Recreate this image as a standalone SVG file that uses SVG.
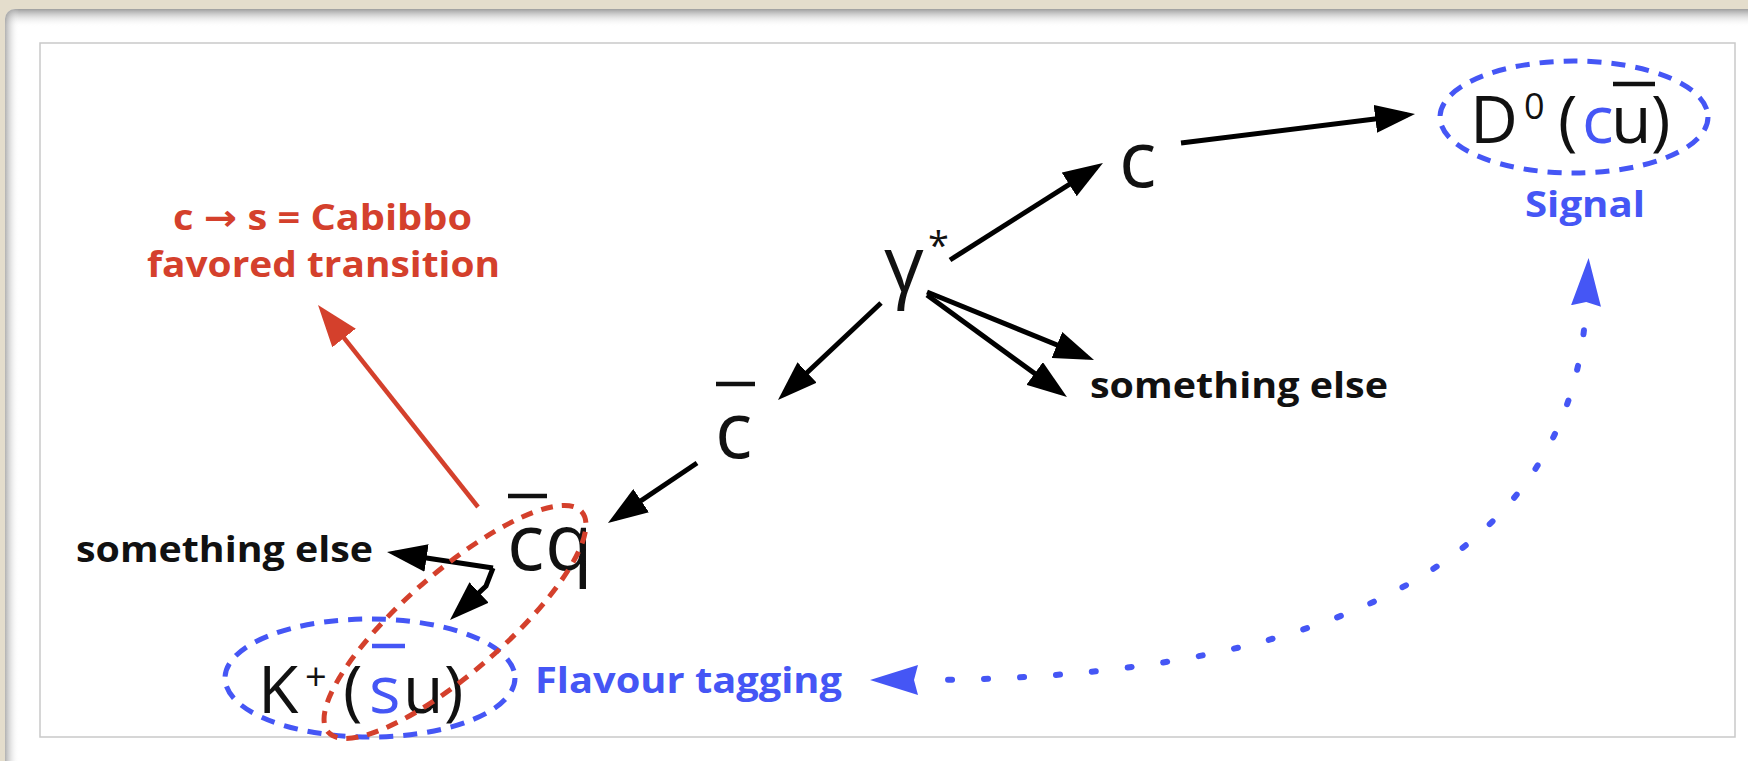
<svg xmlns="http://www.w3.org/2000/svg" width="1748" height="761" viewBox="0 0 1748 761">
  <defs>
    <linearGradient id="shadeTop" x1="0" y1="0" x2="0" y2="1">
      <stop offset="0" stop-color="#7d7d7d" stop-opacity="0.75"/>
      <stop offset="1" stop-color="#ffffff" stop-opacity="0"/>
    </linearGradient>
    <linearGradient id="shadeLeft" x1="0" y1="0" x2="1" y2="0">
      <stop offset="0" stop-color="#7d7d7d" stop-opacity="0.6"/>
      <stop offset="1" stop-color="#ffffff" stop-opacity="0"/>
    </linearGradient>
    <clipPath id="panelClip">
      <rect x="5" y="9" width="1800" height="800" rx="10"/>
    </clipPath>
    <!-- arrowheads: path end sits 8px behind the tip -->
    <marker id="ah" viewBox="0 0 40 28" refX="32" refY="14" markerWidth="40" markerHeight="28" markerUnits="userSpaceOnUse" orient="auto">
      <path d="M0,0 L40,14 L0,28 z" fill="#000"/>
    </marker>
    <marker id="ahRed" viewBox="0 0 42 30" refX="34" refY="15" markerWidth="42" markerHeight="30" markerUnits="userSpaceOnUse" orient="auto">
      <path d="M0,0 L42,15 L0,30 z" fill="#d4402c"/>
    </marker>
    <marker id="ahBlue" viewBox="0 0 48 30" refX="0" refY="15" markerWidth="48" markerHeight="30" markerUnits="userSpaceOnUse" orient="auto-start-reverse">
      <path d="M0,0 L48,15 L0,30 L4,15 z" fill="#4556f5"/>
    </marker>
  </defs>
  <style>
    .q { font-family: "Open Sans", "Noto Sans", sans-serif; font-size: 78px; fill: #111; }
    .m { font-family: "Open Sans", "Noto Sans", sans-serif; font-size: 66px; fill: #111; }
    .lbl { font-family: "Open Sans", "Noto Sans", sans-serif; font-weight: 700; font-size: 36px; fill: #111; }
    .sym { font-family: "DejaVu Sans", sans-serif; font-weight: 700; }
    .blue { fill: #4556f5; }
    .red { fill: #d4402c; }
    .bar { stroke: #111; stroke-width: 4.5; }
    .arrow { stroke: #000; stroke-width: 5; fill: none; marker-end: url(#ah); }
    .arrowRed { stroke: #d4402c; stroke-width: 4.5; fill: none; marker-end: url(#ahRed); }
    .dotted { stroke: #4556f5; stroke-width: 6; fill: none; stroke-linecap: round; stroke-dasharray: 4 32; stroke-dashoffset: 6; marker-start: url(#ahBlue); marker-end: url(#ahBlue); }
    .ringBlue { fill: none; stroke: #4556f5; stroke-width: 5; stroke-dasharray: 14 10; }
    .ringRed { fill: none; stroke: #d4402c; stroke-width: 5; stroke-dasharray: 12 9; }
  </style>

  <!-- page background and panel -->
  <rect x="0" y="0" width="1748" height="761" fill="#e4ddcc"/>
  <g clip-path="url(#panelClip)">
    <rect x="5" y="9" width="1800" height="800" fill="#ffffff"/>
    <rect x="5" y="9" width="1800" height="18" fill="url(#shadeTop)"/>
    <rect x="5" y="9" width="14" height="800" fill="url(#shadeLeft)"/>
  </g>
  <rect x="40" y="43" width="1695" height="694" fill="#ffffff" stroke="#c9c9c9" stroke-width="1.5"/>

  <!-- connectors -->
  <g id="connectors">
    <path class="arrow" d="M950,260 L1096.2,167.3"/>
    <path class="arrow" d="M1181,143 L1407.1,115"/>
    <path class="arrow" d="M927,292 L1086.6,357"/>
    <path class="arrow" d="M927,295 L1060.5,392.3"/>
    <path class="arrow" d="M881,303 L783.8,394.5"/>
    <path class="arrow" d="M697,463 L614.6,518.5"/>
    <path class="arrow" d="M493,568 L394.9,553.2"/>
    <path class="arrow" d="M493,568 L486,586 L455.8,614.5"/>
    <path class="arrowRed" d="M478,507 L323,311.3"/>
    <path class="dotted" d="M918,680 C1250,680 1570,600 1586,306"/>
  </g>

  <!-- nodes -->
  <g id="gamma">
    <text class="q" x="884" y="292">γ</text>
    <text class="q" x="928" y="259" style="font-size:38px">*</text>
  </g>

  <g id="charm">
    <text class="q" x="1119" y="187">c</text>
  </g>

  <g id="anticharm">
    <line class="bar" x1="716" y1="384" x2="755" y2="384"/>
    <text class="q" x="715" y="458">c</text>
  </g>

  <g id="anticharm-q">
    <line class="bar" x1="508" y1="496" x2="547" y2="496"/>
    <text class="q" x="507" y="570">c<tspan x="545">q</tspan></text>
  </g>

  <g id="d0">
    <ellipse class="ringBlue" cx="1574" cy="117" rx="134" ry="56"/>
    <line class="bar" x1="1613" y1="84" x2="1655" y2="84"/>
    <text class="m" y="143"><tspan x="1470">D</tspan><tspan x="1524" y="119" style="font-size:36px">0</tspan><tspan x="1558" y="143">(</tspan><tspan x="1582" class="blue">c</tspan><tspan x="1611">u</tspan><tspan x="1651">)</tspan></text>
    <text class="lbl blue" x="1525" y="217" textLength="120" lengthAdjust="spacingAndGlyphs">Signal</text>
  </g>

  <g id="other-upper">
    <text class="lbl" x="1090" y="398" textLength="298" lengthAdjust="spacingAndGlyphs">something else</text>
  </g>

  <g id="other-lower">
    <text class="lbl" x="76" y="562" textLength="297" lengthAdjust="spacingAndGlyphs">something else</text>
  </g>

  <g id="kaon">
    <ellipse class="ringBlue" cx="370" cy="678" rx="145" ry="59"/>
    <line class="bar" x1="372" y1="646" x2="405" y2="646" style="stroke:#4556f5"/>
    <text class="m" y="713"><tspan x="258">K</tspan><tspan x="305" y="690" style="font-size:38px">+</tspan><tspan x="343" y="713">(</tspan><tspan x="369" class="blue">s</tspan><tspan x="403">u</tspan><tspan x="444">)</tspan></text>
    <text class="lbl blue" x="535" y="693" textLength="307" lengthAdjust="spacingAndGlyphs">Flavour tagging</text>
  </g>

  <g id="cabibbo">
    <ellipse class="ringRed" cx="455" cy="622" rx="168" ry="50" transform="rotate(-41 455 622)"/>
    <text class="lbl red" x="173" y="230" textLength="299" lengthAdjust="spacingAndGlyphs">c <tspan class="sym">→</tspan> s = Cabibbo</text>
    <text class="lbl red" x="147" y="277" textLength="353" lengthAdjust="spacingAndGlyphs">favored transition</text>
  </g>
</svg>
